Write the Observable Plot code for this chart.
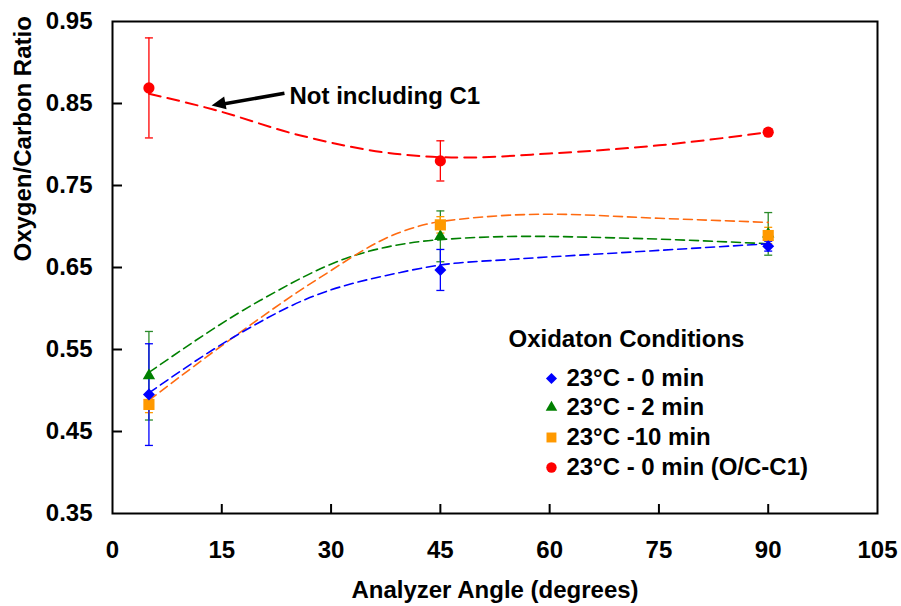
<!DOCTYPE html>
<html>
<head>
<meta charset="utf-8">
<script src="https://cdn.jsdelivr.net/npm/d3@7"></script>
<script src="https://cdn.jsdelivr.net/npm/@observablehq/plot@0.6"></script>
<style>
  html, body { margin: 0; padding: 0; background: #fff; }
  #chart svg { display: block; }
</style>
</head>
<body>
<div id="chart"></div>
<script>
// ---- data ----
const angles = [5, 45, 90];
const xTicks = [0, 15, 30, 45, 60, 75, 90, 105];
const yTicks = [0.35, 0.45, 0.55, 0.65, 0.75, 0.85, 0.95];

const seriesNames = ["23°C - 0 min", "23°C - 2 min", "23°C -10 min", "23°C - 0 min (O/C-C1)"];

// measured points (markers) and error bars
const blueVals = [0.495, 0.647, 0.676];
const blueErr = [0.062, 0.025, 0.006];
const greenVals = [0.518, 0.688, 0.691];
const greenErr = [0.054, 0.031, 0.026];
const orangeVals = [0.483, 0.702, 0.689];
const orangeErr = [0.010, 0.010, 0.010];
const redVals = [0.869, 0.780, 0.815];
const redErr = [0.061, 0.0245, 0.004];

// fitted (dashed) curves
const blueCurveX = [5, 16.6, 27, 39.5, 45, 55, 69.7, 90];
const blueCurveY = [0.497, 0.565, 0.613, 0.644, 0.653, 0.660, 0.668, 0.679];
const greenCurveX = [5, 20.3, 32, 45, 57, 69.7, 90];
const greenCurveY = [0.522, 0.610, 0.661, 0.684, 0.688, 0.686, 0.679];
const orangeCurveX = [5, 16.6, 28, 39.5, 45, 60, 75, 90];
const orangeCurveY = [0.488, 0.565, 0.635, 0.693, 0.706, 0.715, 0.710, 0.705];
const redCurveX = [5, 13.7, 25.8, 39.5, 48, 60, 75, 90];
const redCurveY = [0.862, 0.843, 0.811, 0.788, 0.784, 0.789, 0.799, 0.815];

const annotationText = "Not including C1";
const legendTitle = "Oxidaton Conditions";
const xTitle = "Analyzer Angle (degrees)";
const yTitle = "Oxygen/Carbon Ratio";

// ---- build tables ----
const pts = (vals, err) => angles.map((a, i) => ({x: a, y: vals[i], lo: vals[i] - err[i], hi: vals[i] + err[i]}));
const crv = (xs, ys) => xs.map((x, i) => ({x, y: ys[i]}));

const FS = 24;
const series = [
  {pts: pts(redVals, redErr), curve: crv(redCurveX, redCurveY), line: "#ff0000", fill: "#ff0000", err: "#ff0000", symbol: "circle", r: 5.6, dash: "12,7", lw: 2},
  {pts: pts(greenVals, greenErr), curve: crv(greenCurveX, greenCurveY), line: "#008000", fill: "#008000", err: "#2a8a2a", symbol: "triangle", r: 4.6, dash: "9,5", lw: 1.6},
  {pts: pts(orangeVals, orangeErr), curve: crv(orangeCurveX, orangeCurveY), line: "#ff6a10", fill: "#ff9900", err: "#ff9900", symbol: "square", r: 6.3, dash: "9,5", lw: 1.6},
  {pts: pts(blueVals, blueErr), curve: crv(blueCurveX, blueCurveY), line: "#0000ff", fill: "#0000ff", err: "#0000ff", symbol: "diamond2", r: 5.4, dash: "9,5", lw: 1.6}
];

const capSymbol = {draw(ctx) { ctx.moveTo(-4, 0); ctx.lineTo(4, 0); }};
const headSymbol = {draw(ctx) { ctx.moveTo(0, 0); ctx.lineTo(-14, -6.5); ctx.lineTo(-14, 6.5); ctx.closePath(); }};

const marks = [];
for (const s of series) {
  marks.push(Plot.ruleX(s.pts, {x: "x", y1: "lo", y2: "hi", stroke: s.err, strokeWidth: 1.3}));
  marks.push(Plot.dot(s.pts, {x: "x", y: "hi", symbol: capSymbol, stroke: s.err, strokeWidth: 1.3, fill: "none"}));
  marks.push(Plot.dot(s.pts, {x: "x", y: "lo", symbol: capSymbol, stroke: s.err, strokeWidth: 1.3, fill: "none"}));
}
for (const s of series) {
  marks.push(Plot.line(s.curve, {x: "x", y: "y", curve: "monotone-x", stroke: s.line, strokeWidth: s.lw, strokeDasharray: s.dash}));
  marks.push(Plot.dot(s.pts, {x: "x", y: "y", symbol: s.symbol, r: s.r, fill: s.fill, stroke: "none"}));
}

// annotation (arrow + text), positions in data units
marks.push(Plot.link([{x1: 23.6, y1: 0.8625, x2: 15.2, y2: 0.8495}], {x1: "x1", y1: "y1", x2: "x2", y2: "y2", stroke: "#000", strokeWidth: 3.6}));
marks.push(Plot.dot([{x: 13.6, y: 0.8476}], {x: "x", y: "y", symbol: headSymbol, rotate: 169.6, fill: "#000", stroke: "none"}));
marks.push(Plot.text([annotationText], {x: 24.3, y: 0.8585, text: d => d, textAnchor: "start", fontWeight: "bold", fontSize: FS, fill: "#000"}));

// legend
const legendOrder = [
  {name: seriesNames[0], fill: "#0000ff", symbol: "diamond2", r: 5.0},
  {name: seriesNames[1], fill: "#008000", symbol: "triangle", r: 4.3},
  {name: seriesNames[2], fill: "#ff9900", symbol: "square", r: 5.6},
  {name: seriesNames[3], fill: "#ff0000", symbol: "circle", r: 5.2}
];
const legendRowY = [0.5146, 0.4793, 0.4427, 0.4061];
marks.push(Plot.text([legendTitle], {x: 54.35, y: 0.5622, text: d => d, textAnchor: "start", fontWeight: "bold", fontSize: FS, fill: "#000"}));
legendOrder.forEach((l, i) => {
  marks.push(Plot.dot([l], {x: 60.25, y: legendRowY[i], symbol: l.symbol, r: l.r, fill: l.fill, stroke: "none"}));
  marks.push(Plot.text([l], {x: 62.3, y: legendRowY[i], text: "name", textAnchor: "start", fontWeight: "bold", fontSize: FS, fill: "#000"}));
});

// axes
marks.push(Plot.tickX(xTicks.slice(1, -1), {x: d => d, stroke: "#000", strokeWidth: 2, insetTop: 483}));
marks.push(Plot.tickY(yTicks.slice(1, -1), {y: d => d, stroke: "#000", strokeWidth: 2, insetRight: 755}));
marks.push(Plot.axisX(xTicks, {tickSize: 0, tickPadding: 27, label: null, fontSize: FS, fontWeight: "bold", tickFormat: d3.format("d")}));
marks.push(Plot.axisY(yTicks, {tickSize: 0, tickPadding: 20, label: null, fontSize: FS, fontWeight: "bold", tickFormat: d3.format(".2f")}));
marks.push(Plot.text([xTitle], {frameAnchor: "bottom", text: d => d, dy: 77, fontWeight: "bold", fontSize: FS, fill: "#000", lineAnchor: "middle"}));
marks.push(Plot.text([yTitle], {frameAnchor: "left", text: d => d, dx: -89.5, dy: -6, rotate: -90, fontWeight: "bold", fontSize: FS, fill: "#000", lineAnchor: "middle"}));
marks.push(Plot.frame({stroke: "#000", strokeWidth: 2}));

const chart = Plot.plot({
  width: 901,
  height: 606,
  marginTop: 21,
  marginRight: 24,
  marginBottom: 93,
  marginLeft: 112,
  style: {fontFamily: "'Liberation Sans', Arial, sans-serif", color: "#000", background: "#fff", overflow: "visible"},
  x: {domain: [0, 105]},
  y: {domain: [0.35, 0.95]},
  marks
});
document.getElementById("chart").appendChild(chart);
</script>
</body>
</html>
